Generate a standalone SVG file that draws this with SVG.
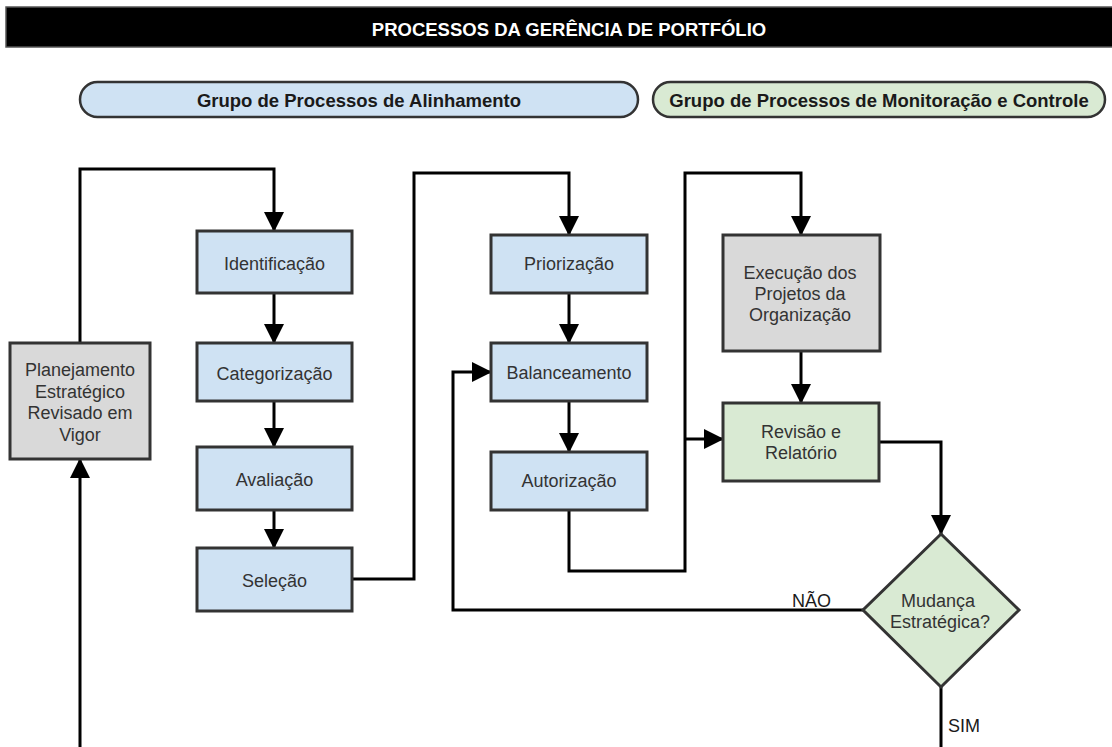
<svg xmlns="http://www.w3.org/2000/svg" width="1112" height="747" viewBox="0 0 1112 747">
  <style>
    .title { font-family: "Liberation Sans", Arial, sans-serif; font-size: 18.5px; font-weight: bold; fill: #ffffff; text-anchor: middle; }
    .grp { font-family: "Liberation Sans", Arial, sans-serif; font-size: 18.5px; font-weight: bold; fill: #1a1a1a; text-anchor: middle; }
    .lbl { font-family: "Liberation Sans", Arial, sans-serif; font-size: 18px; fill: #333333; text-anchor: middle; }
    .edge-lbl { font-family: "Liberation Sans", Arial, sans-serif; font-size: 18px; fill: #1a1a1a; }
    .box { stroke: #333333; stroke-width: 3; }
    .blue { fill: #cfe2f3; }
    .green { fill: #d9ead3; }
    .gray { fill: #d9d9d9; }
    .pill { stroke: #333333; stroke-width: 2.5; }
    .conn { fill: none; stroke: #000000; stroke-width: 3; stroke-linejoin: miter; }
  </style>
  <defs>
    <marker id="arrow" markerUnits="userSpaceOnUse" markerWidth="20" markerHeight="20" refX="19" refY="10" orient="auto">
      <path d="M0,0 L20,10 L0,20 z" fill="#000000"/>
    </marker>
  </defs>

  <rect x="0" y="0" width="1112" height="747" fill="#ffffff"/>

  <!-- header bar -->
  <g id="header">
    <rect x="6" y="7" width="1110" height="40" fill="#000000" stroke="#555555" stroke-width="1.5"/>
    <text class="title" x="569" y="36">PROCESSOS DA GERÊNCIA DE PORTFÓLIO</text>
  </g>

  <!-- process group pills -->
  <g id="grupo-alinhamento">
    <rect class="pill blue" x="80" y="82" width="558" height="35" rx="17.5" ry="17.5"/>
    <text class="grp" x="359" y="106.5">Grupo de Processos de Alinhamento</text>
  </g>
  <g id="grupo-monitoracao">
    <rect class="pill green" x="653" y="82" width="452" height="35" rx="17.5" ry="17.5"/>
    <text class="grp" x="879" y="106.5">Grupo de Processos de Monitoração e Controle</text>
  </g>

  <!-- connectors -->
  <g id="connectors">
    <path class="conn" d="M80,343 V169 H274 V231" marker-end="url(#arrow)"/>
    <path class="conn" d="M274,293 V343" marker-end="url(#arrow)"/>
    <path class="conn" d="M274,401 V447" marker-end="url(#arrow)"/>
    <path class="conn" d="M274,510 V548" marker-end="url(#arrow)"/>
    <path class="conn" d="M352,579 H414 V173 H569 V235" marker-end="url(#arrow)"/>
    <path class="conn" d="M569,293 V343" marker-end="url(#arrow)"/>
    <path class="conn" d="M569,401 V452" marker-end="url(#arrow)"/>
    <path class="conn" d="M569,510 V571 H685 V173 H801 V235" marker-end="url(#arrow)"/>
    <path class="conn" d="M685,439 H723" marker-end="url(#arrow)"/>
    <path class="conn" d="M801,351 V403" marker-end="url(#arrow)"/>
    <path class="conn" d="M879,442 H941 V534" marker-end="url(#arrow)"/>
    <path class="conn" d="M863,610 H453 V372 H491" marker-end="url(#arrow)"/>
    <path class="conn" d="M941,687 V750"/>
    <path class="conn" d="M80,750 V459" marker-end="url(#arrow)"/>
    <text class="edge-lbl" x="792" y="606.5">NÃO</text>
    <text class="edge-lbl" x="948" y="731.5">SIM</text>
  </g>

  <!-- nodes -->
  <g id="planejamento">
    <rect class="box gray" x="10" y="343" width="140" height="116"/>
    <text class="lbl" x="80" y="376">Planejamento</text>
    <text class="lbl" x="80" y="398">Estratégico</text>
    <text class="lbl" x="80" y="419">Revisado em</text>
    <text class="lbl" x="80" y="441">Vigor</text>
  </g>
  <g id="identificacao">
    <rect class="box blue" x="197" y="231" width="155" height="62"/>
    <text class="lbl" x="274.5" y="269.5">Identificação</text>
  </g>
  <g id="categorizacao">
    <rect class="box blue" x="197" y="343" width="155" height="58"/>
    <text class="lbl" x="274.5" y="379.5">Categorização</text>
  </g>
  <g id="avaliacao">
    <rect class="box blue" x="197" y="447" width="155" height="63"/>
    <text class="lbl" x="274.5" y="485.5">Avaliação</text>
  </g>
  <g id="selecao">
    <rect class="box blue" x="197" y="548" width="155" height="63"/>
    <text class="lbl" x="274.5" y="586.5">Seleção</text>
  </g>
  <g id="priorizacao">
    <rect class="box blue" x="491" y="235" width="156" height="58"/>
    <text class="lbl" x="569" y="269.5">Priorização</text>
  </g>
  <g id="balanceamento">
    <rect class="box blue" x="491" y="343" width="156" height="58"/>
    <text class="lbl" x="569" y="379">Balanceamento</text>
  </g>
  <g id="autorizacao">
    <rect class="box blue" x="491" y="452" width="156" height="58"/>
    <text class="lbl" x="569" y="487">Autorização</text>
  </g>
  <g id="execucao">
    <rect class="box gray" x="723" y="235" width="157" height="116"/>
    <text class="lbl" x="800" y="279">Execução dos</text>
    <text class="lbl" x="800" y="300">Projetos da</text>
    <text class="lbl" x="800" y="321">Organização</text>
  </g>
  <g id="revisao">
    <rect class="box green" x="723" y="403" width="156" height="78"/>
    <text class="lbl" x="801" y="438">Revisão e</text>
    <text class="lbl" x="801" y="459">Relatório</text>
  </g>
  <g id="mudanca">
    <path class="box green" d="M941,534 L1019,610 L941,687 L863,610 Z"/>
    <text class="lbl" x="938" y="606.5">Mudança</text>
    <text class="lbl" x="940" y="628">Estratégica?</text>
  </g>
</svg>
